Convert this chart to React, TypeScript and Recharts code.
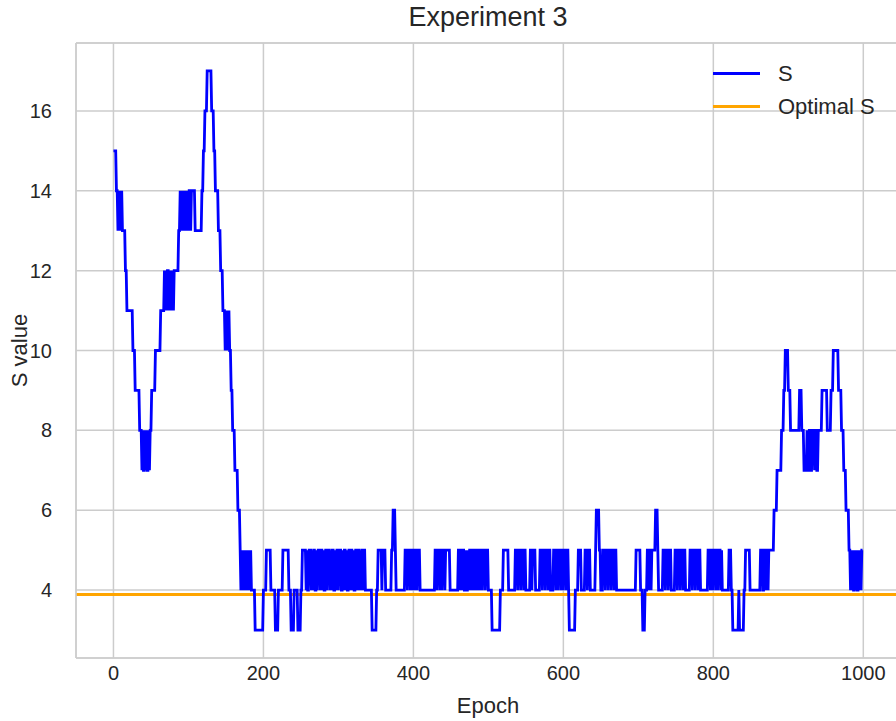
import React from "react";
import { CartesianGrid, Legend, Line, LineChart, ReferenceLine, XAxis, YAxis } from "recharts";

// [epoch where S changes, new S value]
const descent: [number, number][] = [
  [0, 15], [4, 14], [6, 13], [7, 14], [8, 13], [9, 14], [10, 13], [11, 14], [12, 13], [16, 12], [18, 11],
  [26, 10], [29, 9], [35, 8], [38, 7], [39, 8], [40, 7], [42, 8], [43, 7], [44, 8], [45, 7], [47, 8], [48, 7],
  [49, 8], [51, 9], [56, 10], [63, 11], [68, 12], [69, 11], [70, 12], [71, 11], [72, 12], [74, 11], [75, 12],
  [76, 11], [77, 12], [78, 11], [79, 12], [80, 11], [81, 12], [87, 13], [89, 14], [90, 13], [91, 14], [92, 13],
  [93, 14], [94, 13], [95, 14], [96, 13], [97, 14], [98, 13], [99, 14], [100, 13], [101, 14], [103, 13],
  [104, 14], [109, 13], [118, 14], [120, 15], [122, 16], [125, 17], [131, 16], [134, 15], [136, 14], [140, 13],
  [143, 12], [146, 11], [149, 10], [150, 11], [151, 10], [152, 11], [153, 10], [154, 11], [155, 10], [157, 9],
  [159, 8], [162, 7], [166, 6], [169, 5], [170, 4], [171, 5], [172, 4], [173, 5], [174, 4], [175, 5], [176, 4],
  [177, 5], [178, 4], [179, 5], [180, 4], [181, 5], [182, 4], [183, 5], [184, 4], [189, 3],
];

const plateau: [number, number][] = [
  [200, 4], [204, 5], [210, 4], [216, 3], [220, 4], [226, 5], [234, 4], [237, 3], [241, 4], [246, 3], [250, 4],
  [252, 5], [257, 4], [258, 5], [259, 4], [261, 5], [264, 4], [265, 5], [266, 4], [267, 5], [269, 4], [271, 5],
  [272, 4], [273, 5], [276, 4], [277, 5], [279, 4], [280, 5], [281, 4], [283, 5], [285, 4], [286, 5], [289, 4],
  [290, 5], [291, 4], [292, 5], [294, 4], [296, 5], [297, 4], [298, 5], [300, 4], [301, 5], [304, 4], [306, 5],
  [307, 4], [308, 5], [310, 4], [311, 5], [312, 4], [314, 5], [316, 4], [317, 5], [319, 4], [320, 5], [321, 4],
  [323, 5], [325, 4], [326, 5], [328, 4], [329, 5], [330, 4], [331, 5], [333, 4], [334, 5], [336, 4], [345, 3],
  [351, 4], [353, 5], [358, 4], [359, 5], [363, 4], [371, 5], [373, 6], [376, 5], [377, 4], [389, 5], [392, 4],
  [393, 5], [396, 4], [397, 5], [399, 4], [400, 5], [402, 4], [403, 5], [405, 4], [406, 5], [409, 4], [429, 5],
  [431, 4], [432, 5], [435, 4], [436, 5], [438, 4], [439, 5], [442, 4], [443, 5], [449, 4], [460, 5], [462, 4],
  [463, 5], [465, 4], [466, 5], [468, 4], [470, 5], [471, 4], [473, 5], [474, 4], [475, 5], [477, 4], [478, 5],
  [480, 4], [481, 5], [483, 4], [484, 5], [486, 4], [487, 5], [489, 4], [490, 5], [492, 4], [493, 5], [496, 4],
  [497, 5], [500, 4], [505, 3], [516, 4], [520, 5], [527, 4], [536, 5], [539, 4], [540, 5], [543, 4], [544, 5],
  [547, 4], [548, 5], [550, 4], [556, 5], [558, 4], [559, 5], [563, 4], [569, 5], [572, 4], [573, 5], [576, 4],
  [577, 5], [580, 4], [581, 5], [583, 4], [587, 5], [590, 4], [591, 5], [593, 4], [594, 5], [597, 4], [598, 5],
  [600, 4], [601, 5], [604, 4], [605, 5], [607, 4], [608, 3], [616, 4], [620, 5], [624, 4], [629, 5], [632, 4],
  [633, 5], [636, 4], [643, 5], [644, 6], [648, 5], [650, 4], [653, 5], [656, 4], [657, 5], [660, 4], [661, 5],
  [664, 4], [665, 5], [668, 4], [669, 5], [671, 4], [697, 5], [703, 4], [706, 3], [709, 4], [712, 5], [714, 4],
  [715, 5], [717, 4], [718, 5], [723, 6], [726, 5], [727, 4], [733, 5], [736, 4], [737, 5], [740, 4], [741, 5],
  [744, 4], [749, 5], [752, 4], [753, 5], [756, 4], [757, 5], [760, 4], [761, 5], [763, 4], [769, 5], [772, 4],
  [773, 5], [776, 4], [777, 5], [780, 4], [781, 5], [783, 4], [793, 5], [796, 4], [797, 5], [799, 4], [800, 5],
  [803, 4], [804, 5], [806, 4], [807, 5], [810, 4], [811, 5], [812, 4],
];

const recovery: [number, number][] = [
  [821, 5], [824, 4], [826, 3], [834, 4], [835, 3], [841, 4], [843, 5], [849, 4], [863, 5], [866, 4], [868, 5],
  [870, 4], [871, 5], [873, 4], [874, 5], [881, 6], [885, 7], [891, 8], [894, 9], [896, 10], [900, 9], [903, 8],
  [915, 9], [918, 8], [921, 7], [925, 8], [926, 7], [928, 8], [930, 7], [932, 8], [935, 7], [936, 8], [938, 7],
  [940, 8], [945, 9], [952, 8], [957, 9], [960, 10], [967, 9], [971, 8], [974, 7], [977, 6], [981, 5], [983, 4],
  [984, 5], [985, 4], [986, 5], [987, 4], [989, 5], [990, 4], [991, 5], [992, 4], [994, 5], [995, 4], [996, 5],
  [997, 4], [998, 5],
];

const EPOCHS = 1000;
const OPTIMAL_S = 3.89;
const xTicks = [0, 200, 400, 600, 800, 1000];
const yTicks = [4, 6, 8, 10, 12, 14, 16];
const X_DOMAIN: [number, number] = [-49.95, 1048.95];
const Y_DOMAIN: [number, number] = [2.3, 17.7];

const changes = [...descent, ...plateau, ...recovery];
const data = Array.from({ length: EPOCHS }, (_, epoch) => {
  let s = changes[0][1];
  for (const [e, v] of changes) {
    if (e > epoch) break;
    s = v;
  }
  return { epoch, s };
});

const FONT = '"Liberation Sans", Arial, sans-serif';
const TEXT = "#262626";
const GRID = "#cccccc";

const legendItems = [
  { label: "S", color: "#0000ff" },
  { label: "Optimal S", color: "#ffa500" },
];

function LegendBox() {
  return (
    <div style={{ fontFamily: FONT, fontSize: 22, color: TEXT }}>
      {legendItems.map((it) => (
        <div key={it.label} style={{ display: "flex", alignItems: "center", height: 33 }}>
          <span style={{ display: "inline-block", width: 47, height: 3, background: it.color, marginRight: 18 }} />
          <span>{it.label}</span>
        </div>
      ))}
    </div>
  );
}

export default function App() {
  return (
    <div style={{ position: "fixed", left: 0, top: 0, width: 896, height: 721, overflow: "hidden", background: "#fff" }}>
      <div
        style={{
          position: "absolute", left: 76, width: 824, top: 2, textAlign: "center",
          fontFamily: FONT, fontSize: 27, color: TEXT,
        }}
      >
        Experiment 3
      </div>
      <LineChart width={900} height={721} data={data} margin={{ top: 43, right: 0, bottom: 0, left: 0 }}>
        <CartesianGrid stroke={GRID} strokeWidth={1.5} />
        <XAxis
          type="number"
          dataKey="epoch"
          domain={X_DOMAIN}
          ticks={xTicks}
          allowDataOverflow
          height={63}
          tickSize={0}
          tickMargin={8}
          axisLine={{ stroke: GRID, strokeWidth: 1.5 }}
          tick={{ fill: TEXT, fontSize: 20, fontFamily: FONT }}
          label={{ value: "Epoch", position: "insideBottom", offset: 8, fill: TEXT, fontSize: 22, fontFamily: FONT }}
        />
        <YAxis
          type="number"
          domain={Y_DOMAIN}
          ticks={yTicks}
          allowDataOverflow
          width={76}
          tickSize={0}
          tickMargin={24}
          axisLine={{ stroke: GRID, strokeWidth: 1.5 }}
          tick={{ fill: TEXT, fontSize: 20, fontFamily: FONT }}
          label={{
            value: "S value", angle: -90, position: "insideLeft", offset: 19, fill: TEXT, fontSize: 22,
            fontFamily: FONT, style: { textAnchor: "middle" },
          }}
        />
        <ReferenceLine y={Y_DOMAIN[1]} stroke={GRID} strokeWidth={1.5} />
        <ReferenceLine y={OPTIMAL_S} stroke="#ffa500" strokeWidth={2.8} />
        <Line
          type="linear"
          dataKey="s"
          stroke="#0000ff"
          strokeWidth={2.8}
          dot={false}
          isAnimationActive={false}
        />
        <Legend
          layout="vertical"
          align="center"
          verticalAlign="middle"
          content={() => <LegendBox />}
          wrapperStyle={{ left: 713, top: 57, width: "auto" }}
        />
      </LineChart>
    </div>
  );
}
